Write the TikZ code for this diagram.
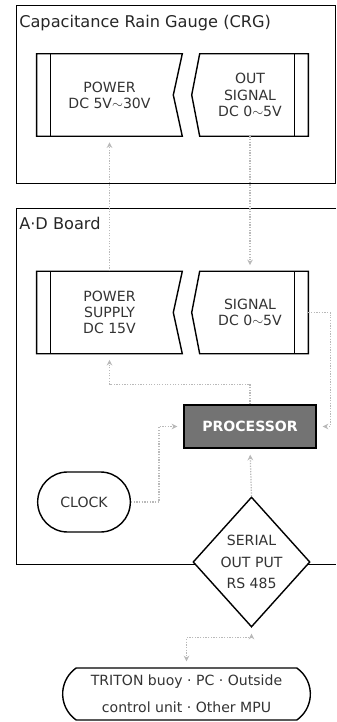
\documentclass[tikz,border=0pt]{standalone}
\usepackage{fontspec}
\setmainfont{DejaVu Sans}
\usetikzlibrary{calc,shapes.geometric,shapes.misc,arrows.meta}

\begin{document}
\begin{tikzpicture}[x=0.025cm, y=-0.025cm,
  plug/.style={inner sep=0pt, minimum height=2.05cm, align=center, text=black!80, font=\fontsize{10}{11.5}\selectfont},
  outline/.style={line width=1pt},
  flow/.style={gray!55, densely dotted, line width=0.9pt, shorten >=1.5mm, -{Stealth[length=4pt,width=4pt]}},
  title/.style={anchor=west, inner sep=0pt, text=black!85, font=\fontsize{11.5}{13}\selectfont}]
  \useasboundingbox (0,0) rectangle (336,722);

  % rain gauge housing
  \draw[line width=0.6pt] (16,5) rectangle (335,183);
  \node[title] (crg) at (19,23) {Capacitance Rain Gauge (CRG)};
  \node[plug, minimum width=3.625cm] (crgpower) at (109.5,95) {POWER\\DC 5V$\sim$30V};
  \node[plug, minimum width=2.9cm] (crgsig) at (250,95) {OUT\\SIGNAL\\DC 0$\sim$5V};
  \draw[outline] (crgpower.north west) -- (crgpower.north east) -- ($(crgpower.east)+(-9,0)$)
    -- (crgpower.south east) -- (crgpower.south west) -- cycle;
  \draw[outline] (crgpower.north west) rectangle ($(crgpower.south west)+(14,0)$);
  \draw[outline] ($(crgsig.north west)+(8,0)$) -- (crgsig.north east) -- (crgsig.south east)
    -- ($(crgsig.south west)+(8,0)$) -- (crgsig.west) -- cycle;
  \draw[outline] (crgsig.north east) rectangle ($(crgsig.south east)+(-14,0)$);

  % A/D board
  \draw[line width=0.6pt] (336,208) -- (16,208) -- (16,564) -- (336,564);
  \node[title] (board) at (19,223) {A·D Board};
  \node[plug, minimum width=3.625cm] (adpower) at (109.5,312.5) {POWER\\SUPPLY\\DC 15V};
  \node[plug, minimum width=2.9cm] (adsig) at (250,312.5) {SIGNAL\\DC 0$\sim$5V};
  \draw[outline] (adpower.north west) -- (adpower.north east) -- ($(adpower.east)+(-9,0)$)
    -- (adpower.south east) -- (adpower.south west) -- cycle;
  \draw[outline] (adpower.north west) rectangle ($(adpower.south west)+(14,0)$);
  \draw[outline] ($(adsig.north west)+(8,0)$) -- (adsig.north east) -- (adsig.south east)
    -- ($(adsig.south west)+(8,0)$) -- (adsig.west) -- cycle;
  \draw[outline] (adsig.north east) rectangle ($(adsig.south east)+(-14,0)$);

  \node[draw, outline, fill=black!55, minimum width=3.3cm, minimum height=1.075cm,
    text=white, font=\bfseries\fontsize{10}{12}\selectfont] (proc) at (250,426.5) {PROCESSOR};
  \node[draw, outline, rounded rectangle, minimum width=2.55cm, minimum height=1.5cm,
    text=black!80, font=\fontsize{10}{12}\selectfont] (clock) at (84,502) {CLOCK};
  \node[draw, outline, diamond, fill=white, inner sep=0pt, minimum width=2.925cm,
    minimum height=3.25cm, align=center, text=black!80,
    font=\fontsize{10}{15.5}\selectfont] (serial) at (251.5,562) {SERIAL\\OUT PUT\\RS 485};

  % outside world
  \node[draw, outline, rounded rectangle, rounded rectangle arc length=110,
    minimum width=6.425cm, minimum height=1.3cm, align=center, text=black!80,
    font=\fontsize{10}{19}\selectfont] (host) at (186.5,694)
    {TRITON buoy · PC · Outside\\control unit · Other MPU};

  % signal paths
  \draw[flow] (adpower.north) -- (crgpower.south);
  \draw[flow] (crgsig.south) -- (adsig.north);
  \draw[flow] (adsig.east) -- ++(22,0) |- (proc.east);
  \draw[flow] (proc.north) -- ++(0,-20) -| (adpower.south);
  \draw[flow] (clock.east) -- ++(28,0) |- (proc.west);
  \draw[flow] (serial.north) -- (proc.south);
  \draw[flow, shorten <=1.5mm, {Stealth[length=4pt,width=4pt]}-{Stealth[length=4pt,width=4pt]}]
    (serial.south) -- ++(0,10) -| (host.north);
\end{tikzpicture}
\end{document}
